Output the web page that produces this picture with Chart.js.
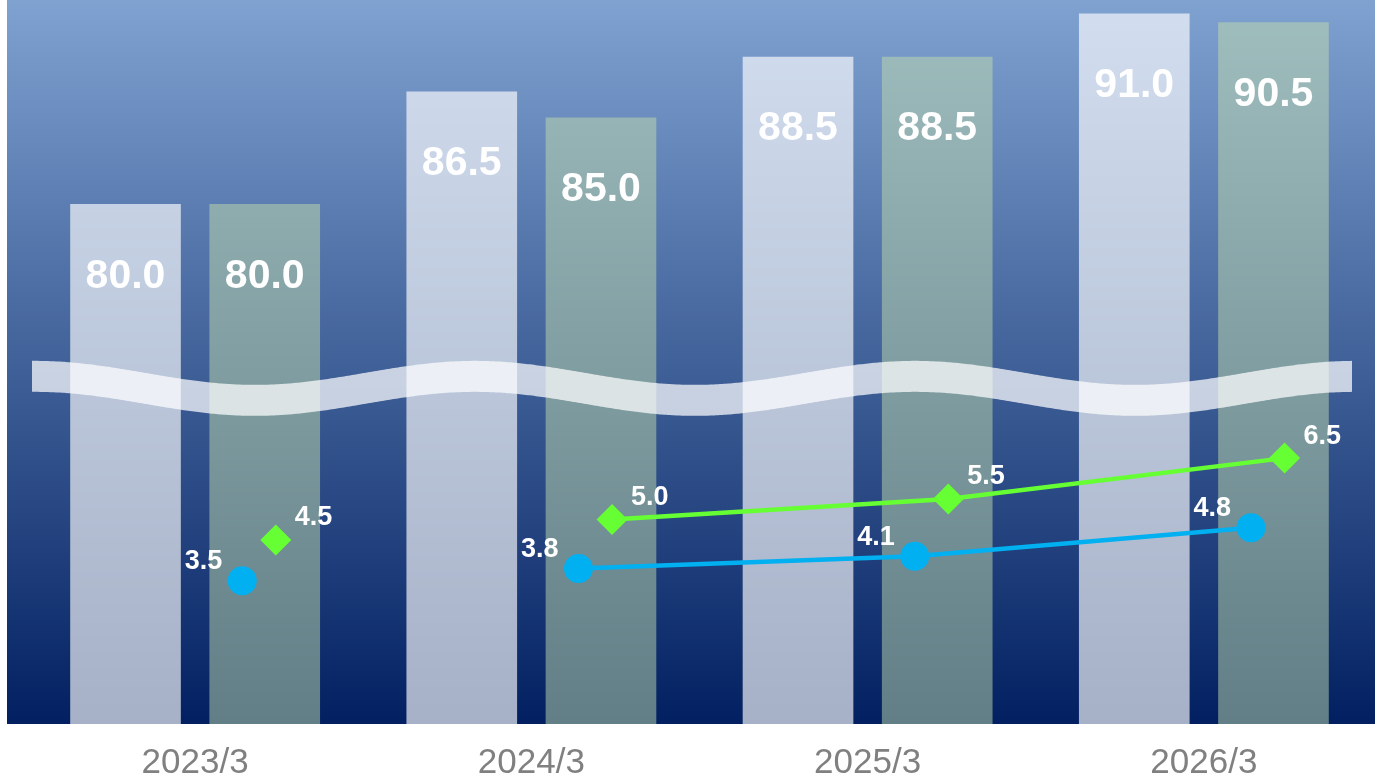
<!DOCTYPE html>
<html>
<head>
<meta charset="utf-8">
<script src="https://cdn.jsdelivr.net/npm/chart.js@4"></script>
<style>
  html, body { margin: 0; background: #fff; }
  #wrap { width: 1375px; height: 778px; }
</style>
</head>
<body>
<div id="wrap"><canvas id="chart"></canvas></div>
<script>
const categories = ['2023/3', '2024/3', '2025/3', '2026/3'];
const barsWhite = [80.0, 86.5, 88.5, 91.0];
const barsGreen = [80.0, 85.0, 88.5, 90.5];
const rateBlue = [3.5, 3.8, 4.1, 4.8];
const rateGreen = [4.5, 5.0, 5.5, 6.5];

const BLUE = '#00b0f0';
const LIME = '#66ff33';
const FONT = '"Liberation Sans", Arial, sans-serif';

// every mark sits on the hidden linear axis "xp": category index plus a shift
const toPoints = (vals, shift) => vals.map((v, i) => ({ x: i + shift, y: v }));
// the first year stands alone, no segment to the next one
const skipFirst = color => ({
  borderColor: c => c.p0DataIndex === 0 ? 'rgba(0,0,0,0)' : color
});

const backdrop = {
  id: 'backdrop',
  beforeDraw(chart) {
    const { ctx, chartArea: a, width } = chart;
    const g = ctx.createLinearGradient(0, a.top, 0, a.bottom);
    g.addColorStop(0, '#7fa2d1');
    g.addColorStop(1, '#022061');
    ctx.save();
    ctx.fillStyle = g;
    ctx.fillRect(7, a.top, width - 7, a.bottom - a.top);
    ctx.restore();
  }
};

// wavy band marking the broken value axis
const breakBand = {
  id: 'breakBand',
  afterDatasetsDraw(chart) {
    const { ctx, chartArea: a } = chart;
    const x0 = a.left + 5, x1 = a.right - 20;
    const mid = a.top + (a.bottom - a.top) * 0.515;
    const amp = 12, wave = 440, thick = 31;
    const edge = x => mid - amp * Math.cos(2 * Math.PI * (x - x0 - 3) / wave);
    ctx.save();
    ctx.beginPath();
    ctx.moveTo(x0, edge(x0));
    for (let x = x0; x <= x1; x += 2) ctx.lineTo(x, edge(x));
    ctx.lineTo(x1, edge(x1));
    ctx.lineTo(x1, edge(x1) + thick);
    for (let x = x1; x >= x0; x -= 2) ctx.lineTo(x, edge(x) + thick);
    ctx.lineTo(x0, edge(x0) + thick);
    ctx.closePath();
    ctx.fillStyle = 'rgba(255,255,255,0.72)';
    ctx.fill();
    ctx.restore();
  }
};

const valueLabels = {
  id: 'valueLabels',
  afterDatasetsDraw(chart) {
    const { ctx } = chart;
    ctx.save();
    ctx.fillStyle = '#fff';
    ctx.textBaseline = 'middle';
    chart.data.datasets.forEach((ds, di) => {
      const meta = chart.getDatasetMeta(di);
      meta.data.forEach((el, i) => {
        const text = ds.data[i].y.toFixed(1);
        if (ds.type === 'line') {
          ctx.font = 'bold 27px ' + FONT;
          if (ds.labelSide === 'left') {
            ctx.textAlign = 'right';
            ctx.fillText(text, el.x - 20, el.y - 19);
          } else {
            ctx.textAlign = 'left';
            ctx.fillText(text, el.x + 19, el.y - 22);
          }
        } else {
          ctx.font = 'bold 41px ' + FONT;
          ctx.textAlign = 'center';
          ctx.fillText(text, el.x, el.y + 72);
        }
      });
    });
    ctx.restore();
  }
};

new Chart(document.getElementById('chart'), {
  type: 'bar',
  data: {
    labels: categories,
    datasets: [
      {
        type: 'bar',
        data: toPoints(barsWhite, -0.207),
        xAxisID: 'xp',
        yAxisID: 'y',
        order: 1,
        grouped: false,
        barThickness: 110,
        backgroundColor: 'rgba(255,255,255,0.65)'
      },
      {
        type: 'bar',
        data: toPoints(barsGreen, 0.207),
        xAxisID: 'xp',
        yAxisID: 'y',
        order: 1,
        grouped: false,
        barThickness: 110,
        backgroundColor: 'rgba(194,219,171,0.5)'
      },
      {
        type: 'line',
        data: toPoints(rateBlue, 0.14),
        xAxisID: 'xp',
        yAxisID: 'y2',
        order: 0,
        labelSide: 'left',
        borderColor: BLUE,
        borderWidth: 4.5,
        segment: skipFirst(BLUE),
        pointStyle: 'circle',
        pointRadius: 14.5,
        pointBackgroundColor: BLUE,
        pointBorderColor: BLUE,
        pointBorderWidth: 0
      },
      {
        type: 'line',
        data: toPoints(rateGreen, 0.24),
        xAxisID: 'xp',
        yAxisID: 'y2',
        order: 0,
        labelSide: 'right',
        borderColor: LIME,
        borderWidth: 4.5,
        segment: skipFirst(LIME),
        pointStyle: 'rectRot',
        pointRadius: 15.5,
        pointBackgroundColor: LIME,
        pointBorderColor: LIME,
        pointBorderWidth: 0
      }
    ]
  },
  options: {
    responsive: true,
    maintainAspectRatio: false,
    animation: false,
    layout: { autoPadding: false, padding: { left: 27, right: 3, top: 0, bottom: 0 } },
    plugins: { legend: { display: false }, tooltip: { enabled: false } },
    scales: {
      x: {
        type: 'category',
        offset: true,
        grid: { display: false, drawTicks: false },
        border: { display: false },
        ticks: {
          color: '#808080',
          padding: 18,
          font: { family: FONT, size: 35, lineHeight: 1.2 }
        },
        afterFit: s => { s.height = 54; }
      },
      xp: { type: 'linear', position: 'bottom', display: false, offset: false, min: -0.5, max: 3.5 },
      y: { display: false, min: 50, max: 91.8 },
      y2: { display: false, min: 0, max: 17.7 }
    }
  },
  plugins: [backdrop, breakBand, valueLabels]
});
</script>
</body>
</html>
